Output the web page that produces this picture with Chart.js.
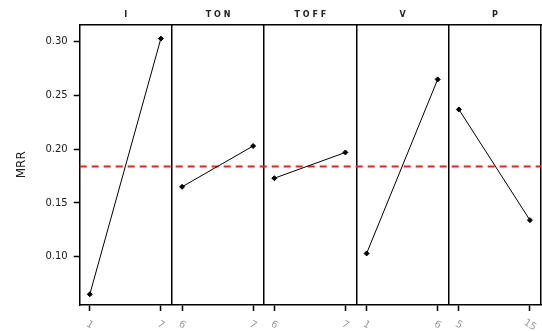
<!DOCTYPE html>
<html>
<head>
<meta charset="utf-8">
<script src="https://cdn.jsdelivr.net/npm/chart.js@4"></script>
<style>
  html, body { margin: 0; padding: 0; background: #fff; }
  #wrap { width: 542px; height: 331px; }
</style>
</head>
<body>
<div id="wrap"><canvas id="myChart" width="542" height="331"></canvas></div>
<script>
// factors and their two levels
var factors = ["I", "TON", "TOFF", "V", "P"];
var levelLabels = [["1", "7"], ["6", "7"], ["6", "7"], ["1", "6"], ["5", "15"]];
// mean MRR at low / high level
var lowMRR  = [0.065, 0.165, 0.173, 0.103, 0.237];
var highMRR = [0.303, 0.203, 0.197, 0.265, 0.134];
var meanMRR = 0.184;
var yTicks = [0.10, 0.15, 0.20, 0.25, 0.30];

// where the two levels sit inside each panel (panel = 1 unit wide)
var levelPos = [0.11, 0.88];

var datasets = [];
for (var i = 0; i < factors.length; i++) {
    datasets.push({
        label: factors[i],
        data: [
            {x: i + levelPos[0], y: lowMRR[i]},
            {x: i + levelPos[1], y: highMRR[i]}
        ],
        borderColor: "#000",
        backgroundColor: "#000",
        borderWidth: 1,
        pointRadius: 2.5,
        pointStyle: "rectRot",
        xAxisID: "x"
    });
}
datasets.push({
    label: "mean",
    data: [{x: 0, y: meanMRR}, {x: factors.length, y: meanMRR}],
    borderColor: "#ff1a1a",
    borderWidth: 2,
    borderDash: [7, 5],
    pointRadius: 0,
    xAxisID: "x"
});

var levelTicks = [];
for (var k = 0; k < factors.length; k++) {
    levelTicks.push({value: k + levelPos[0], label: levelLabels[k][0]});
    levelTicks.push({value: k + levelPos[1], label: levelLabels[k][1]});
}

// level labels are slanted clockwise, which the tick options can't do
var slantLabels = {
    id: "slantLabels",
    afterDraw: function(chart) {
        var sc = chart.scales.x;
        var c = chart.ctx;
        c.save();
        c.fillStyle = "#999";
        c.font = "10px 'DejaVu Sans'";
        c.textAlign = "center";
        c.textBaseline = "middle";
        for (var n = 0; n < levelTicks.length; n++) {
            var px = sc.getPixelForValue(levelTicks[n].value);
            c.save();
            c.translate(px, sc.bottom + 14);
            c.rotate(0.55);
            c.fillText(levelTicks[n].label, 0, 0);
            c.restore();
        }
        c.restore();
    }
};

window.onload = function() {
    var ctx = document.getElementById("myChart");
    new Chart(ctx, {
        type: "line",
        data: { datasets: datasets },
        plugins: [slantLabels],
        options: {
            responsive: false,
            animation: false,
            layout: { autoPadding: false, padding: { left: 11, right: 1, top: 5, bottom: 20 } },
            plugins: { legend: { display: false }, tooltip: { enabled: false } },
            scales: {
                x: {
                    type: "linear", position: "bottom", min: 0, max: factors.length,
                    afterBuildTicks: function(scale) { scale.ticks = levelTicks.map(function(t) { return {value: t.value}; }); },
                    grid: { drawOnChartArea: false, color: "#000", tickLength: 6, tickWidth: 1.5 },
                    border: { color: "#000", width: 1.5 },
                    ticks: { display: false }
                },
                xdiv: {
                    type: "linear", position: "bottom", min: 0, max: factors.length,
                    display: true,
                    afterBuildTicks: function(scale) {
                        var t = [];
                        for (var n = 1; n <= factors.length; n++) t.push({value: n});
                        scale.ticks = t;
                    },
                    grid: { color: "#000", lineWidth: 1.5, drawTicks: false },
                    border: { display: false },
                    ticks: { display: false }
                },
                xtop: {
                    type: "linear", position: "top", min: 0, max: factors.length,
                    afterBuildTicks: function(scale) {
                        var t = [];
                        for (var n = 0; n < factors.length; n++) t.push({value: n + 0.5});
                        scale.ticks = t;
                    },
                    grid: { drawOnChartArea: false, drawTicks: false },
                    border: { color: "#000", width: 1.5 },
                    ticks: {
                        color: "#222", padding: 5, maxRotation: 0,
                        font: { family: "DejaVu Sans", size: 8, weight: "bold" },
                        callback: function(v) { return factors[Math.floor(v)].split("").join(" "); }
                    }
                },
                y: {
                    min: 0.055, max: 0.316,
                    afterBuildTicks: function(scale) {
                        scale.ticks = yTicks.map(function(v) { return {value: v}; });
                    },
                    grid: { drawOnChartArea: false, color: "#000", tickLength: 6, tickWidth: 1.5 },
                    border: { color: "#000", width: 1.5 },
                    ticks: {
                        color: "#222", padding: 6,
                        font: { family: "DejaVu Sans", size: 10 },
                        callback: function(v) { return v.toFixed(2); }
                    },
                    title: {
                        display: true, text: "MRR", color: "#222",
                        font: { family: "DejaVu Sans", size: 12 }, padding: { bottom: 10 }
                    }
                }
            }
        }
    });
};
</script>
</body>
</html>
